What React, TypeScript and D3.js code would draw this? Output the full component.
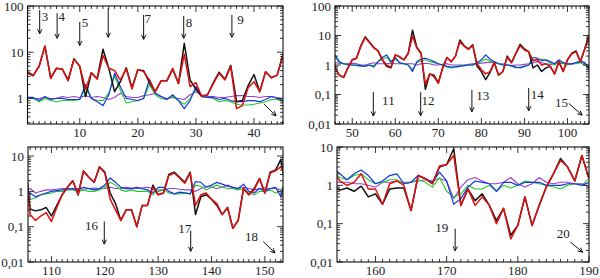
import React from 'react';
import * as d3 from 'd3';

// positions along the sequence, 1..190
const positions = d3.range(1, 191);

const blackValues = [
  // 1-45
  3.6, 3.1, 5.0, 13.5, 2.8, 4.5, 4.3, 2.5, 7.2, 5.0, 1.1, 3.6, 2.7, 11.6, 4.5, 1.4, 2.3, 4.6, 1.7, 4.2,
  4.0, 2.2, 1.4, 2.4, 2.4, 4.3, 2.1, 15.6, 2.5, 1.6, 1.1, 1.2, 2.2, 3.7, 2.6, 5.2, 0.85, 0.9, 1.9, 3.3,
  1.4, 3.8, 2.8, 3.2, 9.0,
  // 46-105
  0.8, 0.45, 0.38, 0.8, 1.5, 1.7, 4.5, 9.0, 6.0, 4.0, 3.0, 1.5, 0.9, 0.8, 2.2, 1.9, 1.5, 2.5, 15, 4.0,
  2.5, 0.15, 0.5, 0.45, 0.25, 0.8, 1.8, 1.3, 2.0, 7.0, 4.5, 3.5, 4.8, 0.9, 0.6, 0.32, 0.55, 1.2, 0.45, 0.6,
  2.0, 1.2, 2.5, 5.0, 3.5, 2.8, 0.8, 1.0, 0.6, 0.8, 0.9, 0.5, 1.3, 0.6, 1.5, 2.5, 3.0, 1.3, 3.5, 10,
  // 106-153
  0.32, 0.28, 0.3, 0.35, 0.2, 0.4, 0.8, 1.3, 2.0, 0.8, 3.8, 2.5, 1.8, 5.0, 3.5, 0.9, 0.45, 0.15, 0.3, 0.3,
  0.1, 0.4, 0.4, 1.5, 0.8, 0.9, 3.0, 3.5, 2.5, 1.8, 3.5, 0.22, 0.7, 0.8, 0.6, 0.4, 0.22, 0.35, 0.09, 0.15,
  1.2, 0.8, 1.2, 2.3, 0.9, 3.5, 4.0, 8.0,
  // 154-190
  1.0, 0.75, 0.85, 0.7, 0.95, 0.5, 0.6, 0.32, 0.8, 0.85, 0.85, 0.22, 1.8, 1.5, 1.1, 3.0, 3.5, 9.0, 0.3, 0.8,
  0.4, 0.6, 0.3, 0.12, 0.25, 0.05, 0.09, 0.5, 0.09, 0.3, 0.9, 2.0, 5.0, 3.0, 1.3, 6.0, 1.5,
];

const redValues = [
  // 1-45
  3.8, 3.2, 4.9, 13.6, 2.7, 4.5, 4.3, 2.4, 7.0, 4.9, 1.6, 3.6, 2.6, 8.5, 4.5, 4.0, 2.5, 4.4, 1.6, 4.2,
  3.8, 2.5, 1.4, 2.4, 2.4, 4.5, 2.1, 9.0, 1.8, 2.2, 1.1, 1.2, 2.1, 3.5, 2.5, 4.9, 0.6, 0.7, 1.7, 2.3,
  1.4, 3.8, 2.8, 3.2, 8.5,
  // 46-105
  0.8, 0.45, 0.38, 0.8, 1.5, 1.7, 4.3, 8.5, 5.8, 3.8, 3.0, 1.5, 1.0, 0.85, 2.2, 1.9, 1.5, 2.4, 9.5, 3.8,
  2.4, 0.22, 0.5, 0.4, 0.24, 0.8, 1.8, 1.3, 2.0, 6.2, 4.3, 3.4, 4.6, 1.1, 0.7, 0.5, 0.6, 1.2, 0.45, 0.6,
  1.8, 1.2, 2.4, 4.5, 3.2, 2.8, 1.4, 1.5, 1.0, 1.1, 0.9, 0.5, 1.3, 0.6, 1.5, 2.4, 2.8, 1.3, 3.4, 9,
  // 106-153
  0.22, 0.15, 0.2, 0.25, 0.14, 0.35, 0.8, 1.3, 2.0, 0.8, 3.7, 2.5, 1.8, 4.8, 3.3, 0.6, 0.3, 0.15, 0.3, 0.3,
  0.1, 0.4, 0.4, 1.3, 0.8, 0.9, 2.8, 3.3, 2.4, 1.7, 3.3, 0.4, 0.8, 0.9, 0.6, 0.45, 0.22, 0.35, 0.09, 0.15,
  1.2, 0.8, 1.1, 2.3, 0.9, 3.3, 3.8, 5.0,
  // 154-190
  2.5, 1.3, 1.0, 1.2, 2.0, 0.8, 0.8, 0.32, 1.1, 1.3, 1.0, 0.22, 1.8, 1.5, 1.1, 3.2, 3.5, 6.0, 0.3, 0.8,
  0.3, 0.5, 0.3, 0.1, 0.25, 0.04, 0.09, 0.5, 0.09, 0.3, 0.9, 2.0, 4.5, 3.0, 1.3, 6.0, 1.5,
];

const greenValues = [
  // 1-45
  1.0, 1.0, 0.85, 1.0, 0.9, 0.85, 0.9, 0.9, 0.9, 0.95, 1.7, 1.0, 0.9, 0.9, 1.3, 3.0, 1.5, 0.8, 0.85, 0.9,
  1.0, 2.0, 1.2, 1.0, 0.95, 1.1, 0.9, 0.75, 1.0, 1.6, 1.1, 1.05, 1.0, 0.85, 0.9, 0.85, 0.75, 0.72, 0.72, 0.75,
  0.8, 0.85, 0.95, 0.95, 0.85,
  // 46-105
  1.8, 1.2, 1.1, 1.0, 1.0, 0.95, 0.9, 0.9, 1.0, 0.95, 1.3, 1.6, 1.8, 1.2, 1.6, 1.2, 1.1, 1.0, 0.7, 1.2,
  1.4, 1.5, 1.3, 1.2, 1.1, 1.0, 0.85, 0.8, 0.9, 0.95, 0.95, 1.0, 1.0, 1.1, 1.3, 1.6, 1.4, 1.2, 1.1, 1.0,
  1.0, 0.9, 0.8, 0.85, 0.9, 1.0, 1.5, 1.5, 1.6, 1.4, 1.2, 1.0, 1.3, 1.1, 1.0, 1.1, 1.1, 1.2, 1.0, 0.9,
  // 106-153
  0.6, 0.65, 0.8, 0.85, 0.9, 1.0, 1.0, 1.1, 1.1, 1.0, 1.1, 1.0, 1.0, 1.1, 1.3, 1.8, 1.5, 1.1, 1.0, 1.1,
  1.0, 1.0, 1.0, 0.8, 1.1, 1.1, 0.9, 0.85, 0.85, 0.9, 0.85, 1.5, 1.4, 1.1, 1.3, 1.5, 1.3, 1.2, 1.2, 1.1,
  1.2, 0.9, 0.8, 1.0, 1.0, 1.1, 0.9, 1.0,
  // 154-190
  2.3, 1.6, 1.4, 1.8, 2.0, 1.4, 1.1, 1.2, 1.4, 1.4, 1.1, 1.2, 1.4, 1.2, 0.9, 1.6, 0.7, 0.5, 0.6, 1.0,
  0.8, 0.8, 1.0, 0.7, 1.0, 0.85, 1.0, 1.3, 1.2, 1.1, 1.0, 0.9, 0.8, 1.0, 1.1, 1.0, 1.5,
];

const blueValues = [
  // 1-45
  1.05, 1.05, 0.9, 1.1, 0.95, 1.0, 1.0, 0.95, 0.95, 0.95, 2.0, 1.0, 0.85, 0.7, 1.2, 3.5, 1.8, 1.0, 0.95, 0.9,
  1.0, 2.6, 1.3, 1.1, 0.95, 1.2, 0.9, 0.6, 0.9, 1.8, 1.1, 1.05, 1.05, 0.95, 1.0, 0.9, 0.85, 0.85, 0.9, 0.9,
  0.85, 0.95, 1.1, 1.0, 0.9,
  // 46-105
  2.2, 1.3, 1.1, 1.05, 1.0, 1.0, 0.95, 0.9, 1.0, 0.85, 1.3, 1.8, 2.2, 1.3, 1.8, 1.2, 1.1, 1.0, 0.6, 1.3,
  1.6, 1.7, 1.5, 1.3, 1.1, 1.0, 0.9, 0.85, 0.85, 0.9, 0.95, 1.0, 1.0, 1.2, 1.5, 2.2, 1.6, 1.3, 1.1, 1.0,
  1.0, 0.95, 0.85, 0.8, 0.9, 1.0, 1.8, 1.7, 1.4, 1.5, 1.3, 1.1, 1.5, 1.2, 1.1, 1.1, 1.2, 1.4, 1.2, 0.7,
  // 106-153
  0.9, 0.7, 0.8, 0.9, 1.0, 1.05, 1.1, 1.15, 1.2, 1.1, 1.3, 1.2, 1.1, 1.2, 1.5, 2.4, 1.8, 1.3, 1.2, 1.2,
  1.3, 1.2, 1.1, 0.9, 1.3, 1.3, 1.0, 0.85, 0.95, 0.9, 0.85, 1.9, 1.8, 1.3, 1.5, 1.8, 1.6, 1.4, 1.3, 1.2,
  1.6, 1.0, 0.9, 1.2, 1.0, 1.2, 1.3, 0.7,
  // 154-190
  3.0, 2.0, 1.4, 2.0, 2.5, 1.8, 1.1, 1.3, 1.8, 2.0, 1.1, 1.2, 1.8, 1.5, 1.2, 2.2, 1.3, 0.32, 0.45, 0.9,
  1.3, 1.2, 1.1, 0.7, 1.2, 1.2, 1.0, 1.2, 1.2, 1.2, 1.0, 1.0, 1.0, 1.1, 1.1, 1.0, 1.2,
];

const purpleValues = [
  // 1-45
  1.05, 1.0, 1.0, 1.05, 1.0, 1.0, 1.1, 1.05, 1.1, 1.05, 1.15, 1.05, 1.1, 1.05, 0.95, 1.05, 1.3, 1.1, 1.05, 1.05,
  1.15, 1.2, 1.3, 1.1, 1.0, 1.05, 1.0, 0.95, 1.2, 1.4, 1.2, 1.1, 1.1, 1.05, 1.05, 1.1, 1.15, 1.15, 1.1, 1.1,
  1.05, 1.1, 1.1, 1.05, 1.0,
  // 46-105
  1.2, 1.15, 1.1, 1.1, 1.15, 1.1, 1.0, 1.0, 1.1, 1.2, 1.1, 1.1, 1.1, 1.15, 1.1, 1.1, 1.1, 1.1, 1.1, 1.0,
  1.1, 1.15, 1.1, 1.0, 1.0, 1.05, 1.1, 1.0, 1.0, 1.0, 1.0, 1.05, 1.1, 1.1, 1.15, 1.2, 1.25, 1.2, 1.1, 1.1,
  1.0, 0.95, 1.0, 1.0, 1.05, 1.1, 1.2, 1.3, 1.2, 1.1, 1.05, 1.1, 1.1, 1.15, 1.1, 1.05, 1.2, 1.25, 1.1, 1.0,
  // 106-153
  1.2, 0.9, 1.0, 1.1, 1.1, 1.15, 1.2, 1.2, 1.15, 1.2, 1.15, 1.2, 1.25, 1.2, 1.2, 1.3, 1.2, 1.2, 1.3, 1.25,
  1.2, 1.25, 1.3, 1.2, 1.0, 1.1, 1.2, 1.2, 1.15, 1.1, 1.1, 1.0, 1.2, 1.4, 1.3, 1.2, 1.3, 1.5, 1.3, 1.2,
  1.3, 1.2, 1.1, 1.2, 1.25, 1.2, 1.2, 1.1,
  // 154-190
  1.2, 1.2, 1.2, 1.1, 1.1, 1.0, 0.9, 1.2, 1.2, 1.3, 1.2, 1.2, 1.3, 1.4, 1.3, 1.5, 1.3, 0.45, 0.9, 1.4,
  1.6, 1.3, 1.1, 1.1, 1.2, 1.6, 1.1, 0.9, 1.1, 1.6, 1.2, 1.1, 1.2, 1.2, 1.1, 1.1, 0.9,
];

// drawing order: first drawn is underneath
const series = [
  { name: 'purple', values: purpleValues, color: '#9a3fd0', width: 1.1 },
  { name: 'green', values: greenValues, color: '#22cc22', width: 1.1 },
  { name: 'blue', values: blueValues, color: '#1438e0', width: 1.2 },
  { name: 'black', values: blackValues, color: '#111111', width: 1.5 },
  { name: 'red', values: redValues, color: '#e01010', width: 1.5 },
];

const yLabels = new Map<number, string>([
  [0.01, '0,01'], [0.1, '0,1'], [1, '1'], [10, '10'], [100, '100'],
]);

const panels = [
  { id: 'p1', left: 27.5, right: 283, top: 6, bottom: 124, xDomain: [1, 45], yDomain: [0.28, 100], xTicks: [10, 20, 30, 40], yTicks: [1, 10, 100] },
  { id: 'p2', left: 335, right: 589, top: 6, bottom: 124, xDomain: [46, 105], yDomain: [0.01, 100], xTicks: [50, 60, 70, 80, 90, 100], yTicks: [0.01, 0.1, 1, 10, 100] },
  { id: 'p3', left: 28, right: 283, top: 147, bottom: 262, xDomain: [105.6, 153.4], yDomain: [0.01, 18], xTicks: [110, 120, 130, 140, 150], yTicks: [0.01, 0.1, 1, 10] },
  { id: 'p4', left: 337, right: 589, top: 147, bottom: 262, xDomain: [154.6, 190], yDomain: [0.01, 10], xTicks: [160, 170, 180, 190], yTicks: [0.01, 0.1, 1, 10] },
];

// annotation arrows: panel index, start (x, value), end (x, value), label and its centre
const arrows = [
  { p: 0, x0: 3.1, v0: 82, x1: 3.1, v1: 25, label: '3', lx: 4.0, lv: 58 },
  { p: 0, x0: 6.1, v0: 70, x1: 6.1, v1: 20, label: '4', lx: 6.9, lv: 58 },
  { p: 0, x0: 10.0, v0: 45, x1: 10.0, v1: 14, label: '5', lx: 10.9, lv: 43 },
  { p: 0, x0: 14.9, v0: 90, x1: 14.9, v1: 21, label: '', lx: 0, lv: 1 },
  { p: 0, x0: 21.0, v0: 64, x1: 21.0, v1: 19, label: '7', lx: 21.7, lv: 55 },
  { p: 0, x0: 27.9, v0: 61, x1: 27.9, v1: 20, label: '8', lx: 28.8, lv: 43 },
  { p: 0, x0: 36.2, v0: 64, x1: 36.2, v1: 21, label: '9', lx: 37.7, lv: 50 },
  { p: 0, x0: 41.7, v0: 0.76, x1: 43.8, v1: 0.42, label: '', lx: 0, lv: 1 },
  { p: 1, x0: 54.9, v0: 0.12, x1: 54.9, v1: 0.0186, label: '11', lx: 58.4, lv: 0.065 },
  { p: 1, x0: 65.9, v0: 0.12, x1: 65.9, v1: 0.019, label: '12', lx: 67.6, lv: 0.065 },
  { p: 1, x0: 77.8, v0: 0.142, x1: 77.8, v1: 0.026, label: '13', lx: 80.3, lv: 0.096 },
  { p: 1, x0: 91.0, v0: 0.167, x1: 91.0, v1: 0.028, label: '14', lx: 93.0, lv: 0.104 },
  { p: 1, x0: 100.3, v0: 0.05, x1: 103.4, v1: 0.02, label: '15', lx: 98.6, lv: 0.052 },
  { p: 2, x0: 119.9, v0: 0.14, x1: 119.9, v1: 0.032, label: '16', lx: 117.5, lv: 0.109 },
  { p: 2, x0: 136.1, v0: 0.077, x1: 136.1, v1: 0.02, label: '17', lx: 135.0, lv: 0.091 },
  { p: 2, x0: 149.7, v0: 0.038, x1: 151.9, v1: 0.018, label: '18', lx: 147.5, lv: 0.053 },
  { p: 3, x0: 171.2, v0: 0.074, x1: 171.2, v1: 0.0195, label: '19', lx: 169.3, lv: 0.08 },
  { p: 3, x0: 187.4, v0: 0.033, x1: 189.1, v1: 0.018, label: '20', lx: 186.4, lv: 0.057 },
];

const textStyle = { fontFamily: "'Liberation Serif', 'Times New Roman', 'DejaVu Serif', serif", fontSize: '13px' };

const PanelView = ({ panel, index }: { panel: any; index: number }) => {
  const x = d3.scaleLinear().domain(panel.xDomain).range([panel.left, panel.right]);
  const y = d3.scaleLog().domain(panel.yDomain).range([panel.bottom, panel.top]);
  const [d0, d1] = panel.xDomain;

  const minorX = d3.range(Math.ceil(d0), Math.floor(d1) + 1).filter(v => !panel.xTicks.includes(v));
  const minorY: number[] = [];
  for (let e = -3; e <= 2; e++) {
    for (let k = 2; k <= 9; k++) {
      const v = k * Math.pow(10, e);
      if (v > panel.yDomain[0] && v < panel.yDomain[1]) minorY.push(v);
    }
  }

  const line = (vals: number[]) =>
    d3.line<number>()
      .x((_, i) => x(positions[i]))
      .y(v => y(v))(vals) || '';

  const clipId = `clip-${panel.id}`;
  const major = 6;
  const minor = 3;

  return (
    <g>
      <defs>
        <clipPath id={clipId}>
          <rect x={panel.left} y={panel.top} width={panel.right - panel.left} height={panel.bottom - panel.top} />
        </clipPath>
      </defs>
      <g clipPath={`url(#${clipId})`}>
        {series.map(s => (
          <path key={s.name} d={line(s.values)} fill="none" stroke={s.color} strokeWidth={s.width} strokeLinejoin="round" />
        ))}
      </g>
      {/* ticks, inward on all four sides */}
      <g stroke="#222" strokeWidth={0.9}>
        {minorX.map(v => (
          <g key={`mx${v}`}>
            <line x1={x(v)} x2={x(v)} y1={panel.bottom} y2={panel.bottom - minor} />
            <line x1={x(v)} x2={x(v)} y1={panel.top} y2={panel.top + minor} />
          </g>
        ))}
        {panel.xTicks.map((v: number) => (
          <g key={`Mx${v}`}>
            <line x1={x(v)} x2={x(v)} y1={panel.bottom} y2={panel.bottom - major} />
            <line x1={x(v)} x2={x(v)} y1={panel.top} y2={panel.top + major} />
          </g>
        ))}
        {minorY.map(v => (
          <g key={`my${v}`}>
            <line x1={panel.left} x2={panel.left + minor} y1={y(v)} y2={y(v)} />
            <line x1={panel.right} x2={panel.right - minor} y1={y(v)} y2={y(v)} />
          </g>
        ))}
        {panel.yTicks.map((v: number) => (
          <g key={`My${v}`}>
            <line x1={panel.left} x2={panel.left + major} y1={y(v)} y2={y(v)} />
            <line x1={panel.right} x2={panel.right - major} y1={y(v)} y2={y(v)} />
          </g>
        ))}
      </g>
      <rect x={panel.left} y={panel.top} width={panel.right - panel.left} height={panel.bottom - panel.top}
        fill="none" stroke="#111" strokeWidth={1.1} />
      <g style={textStyle} fill="#222">
        {panel.xTicks.map((v: number) => (
          <text key={`lx${v}`} x={x(v)} y={panel.bottom + 13} textAnchor="middle">{v}</text>
        ))}
        {panel.yTicks.map((v: number) => (
          <text key={`ly${v}`} x={panel.left - 4} y={y(v)} dy="0.35em" textAnchor="end">{yLabels.get(v)}</text>
        ))}
      </g>
      {arrows.filter(a => a.p === index).map((a, i) => {
        const ax0 = x(a.x0), ay0 = y(a.v0), ax1 = x(a.x1), ay1 = y(a.v1);
        const ang = Math.atan2(ay1 - ay0, ax1 - ax0);
        const hl = 5, hw = 0.45;
        return (
          <g key={`a${i}`}>
            <line x1={ax0} y1={ay0} x2={ax1} y2={ay1} stroke="#111" strokeWidth={1} />
            <path
              d={`M${ax1 - hl * Math.cos(ang - hw)},${ay1 - hl * Math.sin(ang - hw)}L${ax1},${ay1}L${ax1 - hl * Math.cos(ang + hw)},${ay1 - hl * Math.sin(ang + hw)}`}
              fill="none" stroke="#111" strokeWidth={1} />
            {a.label && (
              <text x={x(a.lx)} y={y(a.lv)} dy="0.35em" textAnchor="middle" style={textStyle} fill="#222">{a.label}</text>
            )}
          </g>
        );
      })}
    </g>
  );
};

export default function App() {
  return (
    <svg width={600} height={278} style={{ position: 'absolute', left: 0, top: 0, background: '#fff' }}>
      {panels.map((p, i) => <PanelView key={p.id} panel={p} index={i} />)}
    </svg>
  );
}
